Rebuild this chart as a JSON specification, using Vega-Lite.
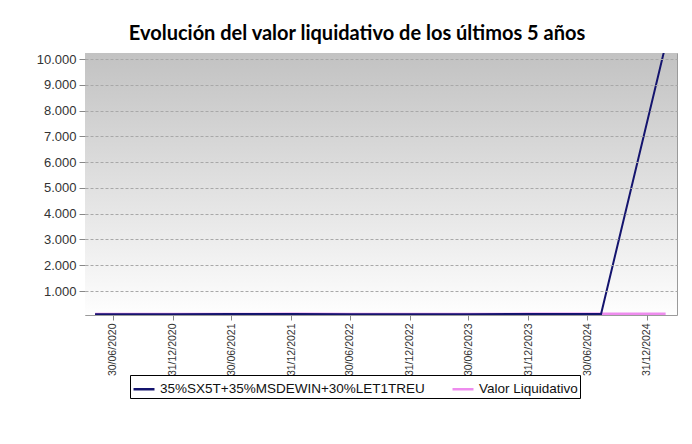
{
  "$schema": "https://vega.github.io/schema/vega-lite/v6.json",
  "autosize": {"type": "none"},
  "width": 592,
  "height": 262,
  "padding": {"left": 85, "top": 53, "right": 15, "bottom": 129},
  "background": "white",
  "title": {
    "text": "Evolución del valor liquidativo de los últimos 5 años",
    "font": "Lato",
    "fontSize": 20,
    "fontWeight": "bold",
    "color": "#000000",
    "anchor": "middle",
    "dx": -24,
    "offset": 9
  },
  "config": {
    "view": {"stroke": "#9a9a9a", "strokeWidth": 1},
    "axis": {
      "labelFont": "Liberation Sans",
      "labelColor": "#333333",
      "domain": false,
      "tickColor": "#888888",
      "tickSize": 5,
      "labelPadding": 3,
      "labelOverlap": false
    }
  },
  "datasets": {
    "series": [
      {"serie": "35%SX5T+35%MSDEWIN+30%LET1TREU", "fecha": "2020-05-06", "valor": 100},
      {"serie": "35%SX5T+35%MSDEWIN+30%LET1TREU", "fecha": "2020-12-31", "valor": 101},
      {"serie": "35%SX5T+35%MSDEWIN+30%LET1TREU", "fecha": "2021-06-30", "valor": 104},
      {"serie": "35%SX5T+35%MSDEWIN+30%LET1TREU", "fecha": "2021-12-31", "valor": 106},
      {"serie": "35%SX5T+35%MSDEWIN+30%LET1TREU", "fecha": "2022-06-30", "valor": 98},
      {"serie": "35%SX5T+35%MSDEWIN+30%LET1TREU", "fecha": "2022-12-31", "valor": 100},
      {"serie": "35%SX5T+35%MSDEWIN+30%LET1TREU", "fecha": "2023-06-30", "valor": 103},
      {"serie": "35%SX5T+35%MSDEWIN+30%LET1TREU", "fecha": "2023-12-31", "valor": 105},
      {"serie": "35%SX5T+35%MSDEWIN+30%LET1TREU", "fecha": "2024-08-12", "valor": 107},
      {"serie": "35%SX5T+35%MSDEWIN+30%LET1TREU", "fecha": "2025-02-21", "valor": 10240},
      {"serie": "Valor Liquidativo", "fecha": "2020-05-06", "valor": 100},
      {"serie": "Valor Liquidativo", "fecha": "2020-12-31", "valor": 101},
      {"serie": "Valor Liquidativo", "fecha": "2021-06-30", "valor": 103},
      {"serie": "Valor Liquidativo", "fecha": "2021-12-31", "valor": 105},
      {"serie": "Valor Liquidativo", "fecha": "2022-06-30", "valor": 98},
      {"serie": "Valor Liquidativo", "fecha": "2022-12-31", "valor": 99},
      {"serie": "Valor Liquidativo", "fecha": "2023-06-30", "valor": 102},
      {"serie": "Valor Liquidativo", "fecha": "2023-12-31", "valor": 104},
      {"serie": "Valor Liquidativo", "fecha": "2024-08-12", "valor": 106},
      {"serie": "Valor Liquidativo", "fecha": "2024-12-31", "valor": 107},
      {"serie": "Valor Liquidativo", "fecha": "2025-02-27", "valor": 108}
    ]
  },
  "layer": [
    {
      "data": {"values": [{}]},
      "mark": {
        "type": "rect",
        "fill": {
          "gradient": "linear",
          "x1": 0, "y1": 0, "x2": 0, "y2": 1,
          "stops": [
            {"offset": 0, "color": "#c2c2c2"},
            {"offset": 1, "color": "#fefefe"}
          ]
        }
      },
      "encoding": {}
    },
    {
      "data": {"name": "series"},
      "transform": [{"filter": "datum.serie === 'Valor Liquidativo'"}],
      "mark": {"type": "line", "strokeWidth": 3, "clip": true},
      "encoding": {
        "x": {"field": "fecha", "type": "temporal"},
        "y": {"field": "valor", "type": "quantitative"},
        "color": {"field": "serie", "type": "nominal"}
      }
    },
    {
      "data": {"name": "series"},
      "transform": [{"filter": "datum.serie !== 'Valor Liquidativo'"}],
      "mark": {"type": "line", "strokeWidth": 2, "clip": true},
      "encoding": {
        "x": {
          "field": "fecha",
          "type": "temporal",
          "title": null,
          "scale": {
            "type": "utc",
            "domain": [
              {"year": 2020, "month": 4, "date": 5, "utc": true},
              {"year": 2025, "month": 4, "date": 3, "utc": true}
            ]
          },
          "axis": {
            "format": "%d/%m/%Y",
            "labelAngle": -90,
            "labelFontSize": 10.5,
            "grid": false,
            "tickCount": 20,
            "values": [
              {"year": 2020, "month": 6, "date": 30, "utc": true},
              {"year": 2020, "month": 12, "date": 31, "utc": true},
              {"year": 2021, "month": 6, "date": 30, "utc": true},
              {"year": 2021, "month": 12, "date": 31, "utc": true},
              {"year": 2022, "month": 6, "date": 30, "utc": true},
              {"year": 2022, "month": 12, "date": 31, "utc": true},
              {"year": 2023, "month": 6, "date": 30, "utc": true},
              {"year": 2023, "month": 12, "date": 31, "utc": true},
              {"year": 2024, "month": 6, "date": 30, "utc": true},
              {"year": 2024, "month": 12, "date": 31, "utc": true}
            ]
          }
        },
        "y": {
          "field": "valor",
          "type": "quantitative",
          "title": null,
          "scale": {"domain": [70, 10233], "nice": false, "zero": false},
          "axis": {
            "values": [1000, 2000, 3000, 4000, 5000, 6000, 7000, 8000, 9000, 10000],
            "tickCount": 20,
            "labelExpr": "replace(format(datum.value, ',.0f'), ',', '.')",
            "labelFontSize": 13,
            "tickSize": 6,
            "grid": true,
            "gridColor": "#a8a8a8",
            "gridDash": [3, 2],
            "gridWidth": 1,
            "zindex": 1
          }
        },
        "color": {
          "field": "serie",
          "type": "nominal",
          "scale": {
            "domain": ["35%SX5T+35%MSDEWIN+30%LET1TREU", "Valor Liquidativo"],
            "range": ["#14146e", "#ee8cee"]
          },
          "legend": {
            "title": null,
            "orient": "none",
            "legendX": 45,
            "legendY": 322,
            "direction": "horizontal",
            "symbolType": "stroke",
            "symbolStrokeWidth": 2.5,
            "symbolSize": 440,
            "labelFont": "Liberation Sans",
            "labelFontSize": 13.5,
            "labelLimit": 400,
            "labelColor": "#111111",
            "strokeColor": "#000000",
            "padding": 2,
            "columnPadding": 22
          }
        }
      }
    }
  ]
}
